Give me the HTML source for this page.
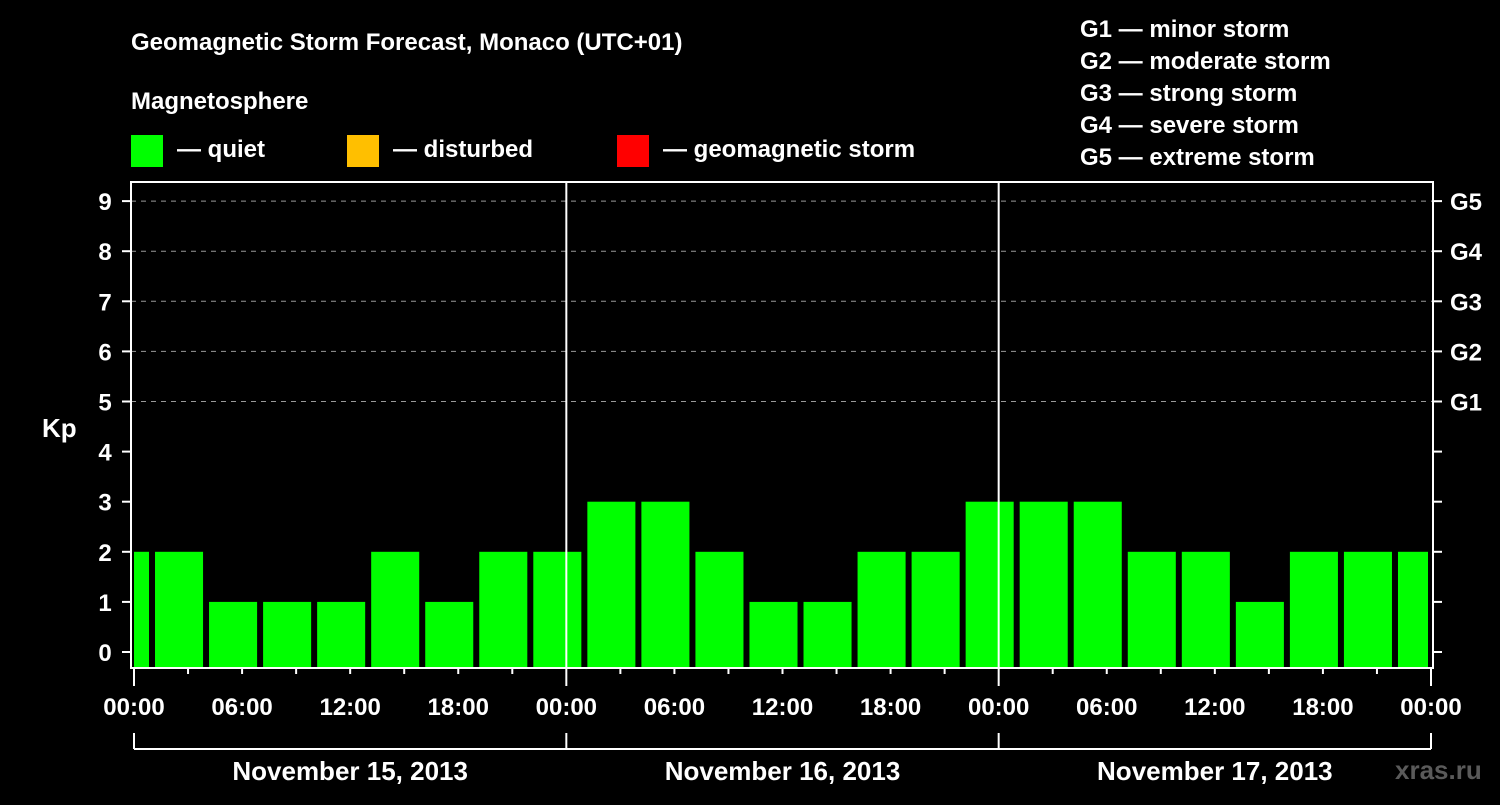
<!DOCTYPE html>
<html><head><meta charset="utf-8"><style>
body{margin:0;background:#000;width:1500px;height:800px;overflow:hidden}
svg text{font-family:"Liberation Sans",Arial,sans-serif;font-weight:bold;fill:#fff}
</style></head><body>
<svg id="c" width="1500" height="800">
<text x="131" y="50" font-size="24">Geomagnetic Storm Forecast, Monaco (UTC+01)</text>
<text x="131" y="109" font-size="24">Magnetosphere</text>
<rect x="131" y="135" width="32" height="32" fill="#00ff00"/>
<text x="177" y="157" font-size="24">— quiet</text>
<rect x="347" y="135" width="32" height="32" fill="#ffbf00"/>
<text x="393" y="157" font-size="24">— disturbed</text>
<rect x="617" y="135" width="32" height="32" fill="#ff0000"/>
<text x="663" y="157" font-size="24">— geomagnetic storm</text>
<g font-size="24">
<text x="1080" y="37">G1 — minor storm</text>
<text x="1080" y="69">G2 — moderate storm</text>
<text x="1080" y="101">G3 — strong storm</text>
<text x="1080" y="133">G4 — severe storm</text>
<text x="1080" y="165">G5 — extreme storm</text>
</g>
<text x="42" y="437" font-size="26">Kp</text>
<text x="1395" y="779" font-size="26" fill="#555" style="fill:#5a5a5a">xras.ru</text>
<g id="grid"></g><g id="bars"></g><g id="axes"></g>
</svg>
<script>
const kpValues=[2,2,1,1,1,2,1,2,2,3,3,2,1,1,2,2,3,3,3,2,2,1,2,2,2];
const windowStartHours=[-2,1,4,7,10,13,16,19,22,25,28,31,34,37,40,43,46,49,52,55,58,61,64,67,70];
const dayLabels=["November 15, 2013","November 16, 2013","November 17, 2013"];
const timeLabels=["00:00","06:00","12:00","18:00"];
const gLabels=["G1","G2","G3","G4","G5"];
const NS="http://www.w3.org/2000/svg";
const X0=134,X1=1431,L=131,R=1433,T=182,B=668;
const xs=h=>X0+(X1-X0)*h/72;
const ys=v=>652-50.1*v;
function mk(p,tag,a){const e=document.createElementNS(NS,tag);for(const k in a)e.setAttribute(k,a[k]);p.appendChild(e);return e;}
const grid=document.getElementById('grid'),bars=document.getElementById('bars'),axes=document.getElementById('axes');
for(let v=5;v<=9;v++){const l=mk(grid,'line',{x1:L,x2:R,y1:ys(v),y2:ys(v),stroke:'#999','stroke-dasharray':'5,5','stroke-width':1});

}
kpValues.forEach((v,i)=>{const h0=Math.max(0,windowStartHours[i]),h1=Math.min(72,windowStartHours[i]+3);
const a=xs(h0)+(windowStartHours[i]<0?0:3),b=xs(h1)-3;
const r=mk(bars,'rect',{x:a,y:ys(v),width:b-a,height:B-ys(v),fill:v>=5?'#ff0000':v>=4?'#ffbf00':'#00ff00'});

});
mk(axes,'rect',{x:L,y:T,width:R-L,height:B-T,fill:'none',stroke:'#fff','stroke-width':2});
for(let d=1;d<3;d++)mk(axes,'line',{x1:xs(24*d),x2:xs(24*d),y1:T,y2:B,stroke:'#fff','stroke-width':2});
for(let v=0;v<=9;v++){mk(axes,'line',{x1:122,x2:L,y1:ys(v),y2:ys(v),stroke:'#fff','stroke-width':2});
mk(axes,'line',{x1:R,x2:1442,y1:ys(v),y2:ys(v),stroke:'#fff','stroke-width':2});
const t=mk(axes,'text',{x:105,y:ys(v)+9,'font-size':24,'text-anchor':'middle'});t.textContent=v;

}
gLabels.forEach((g,i)=>{const t=mk(axes,'text',{x:1450,y:ys(5+i)+9,'font-size':24});t.textContent=g;

});
for(let h=0;h<=72;h+=3){const major=h%24==0;mk(axes,'line',{x1:xs(h),x2:xs(h),y1:B,y2:major?686:674,stroke:'#fff','stroke-width':2});}
for(let h=0;h<=72;h+=6){const t=mk(axes,'text',{x:xs(h),y:715,'font-size':24,'text-anchor':'middle'});t.textContent=timeLabels[(h/6)%4];

}
mk(axes,'line',{x1:xs(0),x2:xs(72),y1:749,y2:749,stroke:'#fff','stroke-width':2});
for(let d=0;d<=3;d++)mk(axes,'line',{x1:xs(24*d),x2:xs(24*d),y1:733,y2:749,stroke:'#fff','stroke-width':2});
dayLabels.forEach((s,i)=>{const t=mk(axes,'text',{x:xs(24*i+12),y:780,'font-size':26,'text-anchor':'middle'});t.textContent=s;

});
</script>
</body></html>
